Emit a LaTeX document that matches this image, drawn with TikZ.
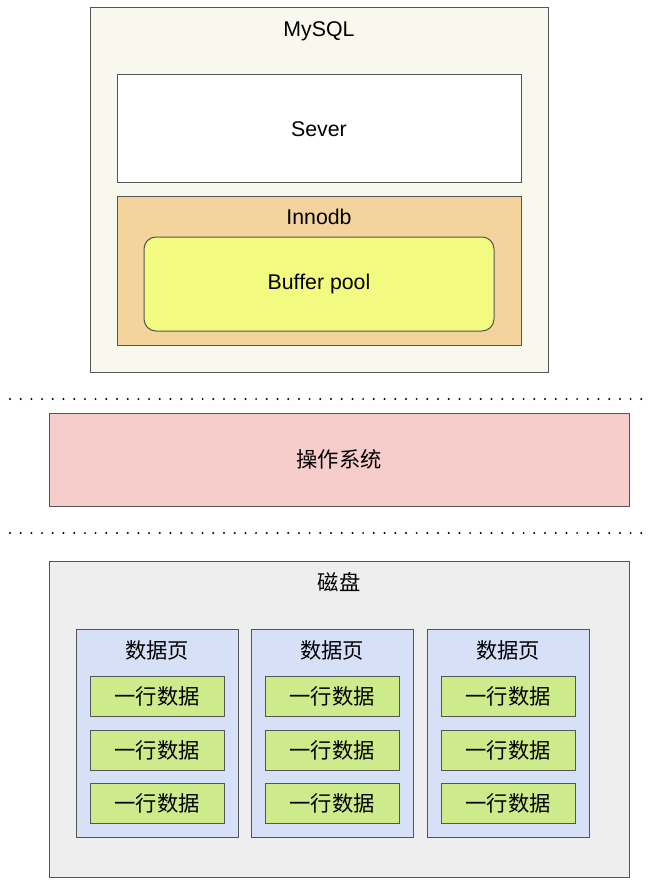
\documentclass[tikz,border=0pt]{standalone}
\usepackage{fontspec}
\setmainfont{Liberation Sans}
\newfontfamily\cjk{Noto Sans CJK SC}
\usepackage{tikz}
\definecolor{mysqlfill}{HTML}{F9F8EE}
\definecolor{innodbfill}{HTML}{F2D49C}
\definecolor{poolfill}{HTML}{F3FA80}
\definecolor{osfill}{HTML}{F6CDCB}
\definecolor{diskfill}{HTML}{EEEEEE}
\definecolor{pagefill}{HTML}{D6E1F8}
\definecolor{rowfill}{HTML}{CDEB8B}
\definecolor{edge}{HTML}{555555}
\newcommand{\labelfont}{\fontsize{21.3}{25}\selectfont}
\newcommand{\cjklabelfont}{\cjk\fontsize{21.3}{25}\selectfont}
\tikzstyle{block}=[draw=edge, line width=1pt, inner sep=0, outer sep=0]
\tikzset{layer/.style 2 args={block, minimum width=#1, minimum height=#2}}
\tikzstyle{page}=[layer={162pt}{208pt}, fill=pagefill]
\tikzstyle{datarow}=[layer={134pt}{40pt}, fill=rowfill, font=\cjklabelfont]
\tikzstyle{caption}=[inner sep=0, text depth=0pt]
\tikzstyle{cjkcaption}=[caption, font=\cjklabelfont]
\tikzstyle{separator}=[line width=2.2pt, line cap=round, dash pattern=on 0pt off 10.7pt]

\begin{document}
\begin{tikzpicture}[x=1pt, y=-1pt, every node/.style={font=\labelfont}]
        \useasboundingbox (0, 0) rectangle (656, 893);
        % MySQL
        \node[layer={458pt}{364pt}, fill=mysqlfill] (mysql) at (319, 190) {};
        \node[caption] (mysqllabel) at (319, 29) {MySQL};
        \node[layer={404pt}{108pt}, fill=white] (sever) at (319, 129) {Sever};
        \node[layer={404pt}{148pt}, fill=innodbfill] (innodb) at (319, 271) {};
        \node[caption] (innodblabel) at (319, 217) {Innodb};
        \node[layer={350pt}{94pt}, fill=poolfill, rounded corners=12pt] (pool) at (319, 284) {Buffer pool};
        % dotted separators
        \coordinate (sepA) at (10, 399);
        \coordinate (sepB) at (650, 399);
        \coordinate (sepC) at (10, 533);
        \coordinate (sepD) at (650, 533);
        \draw[separator] (sepA) -- (sepB);
        \draw[separator] (sepC) -- (sepD);
        % OS
        \node[layer={580pt}{93pt}, fill=osfill, font=\cjklabelfont] (os) at (339, 459.5) {操作系统};
        % disk
        \node[layer={580pt}{316pt}, fill=diskfill] (disk) at (339, 719) {};
        \node[cjkcaption] (disklabel) at (339, 581) {磁盘};
        \node[page] (pageA) at (157, 733) {};
        \node[page] (pageB) at (332, 733) {};
        \node[page] (pageC) at (508, 733) {};
        \node[cjkcaption] (pageAlabel) at (157, 650) {数据页};
        \node[cjkcaption] (pageBlabel) at (332, 650) {数据页};
        \node[cjkcaption] (pageClabel) at (508, 650) {数据页};
        \node[datarow] (rowA1) at (157, 696) {一行数据};
        \node[datarow] (rowA2) at (157, 750) {一行数据};
        \node[datarow] (rowA3) at (157, 803.5) {一行数据};
        \node[datarow] (rowB1) at (332, 696) {一行数据};
        \node[datarow] (rowB2) at (332, 750) {一行数据};
        \node[datarow] (rowB3) at (332, 803.5) {一行数据};
        \node[datarow] (rowC1) at (508, 696) {一行数据};
        \node[datarow] (rowC2) at (508, 750) {一行数据};
        \node[datarow] (rowC3) at (508, 803.5) {一行数据};
    \end{tikzpicture}
\end{document}
